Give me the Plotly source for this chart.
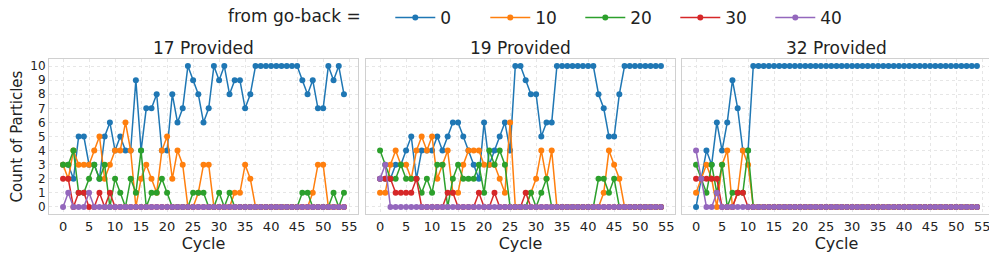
import plotly.graph_objects as go

cycles = list(range(55))
series_names = ["0", "10", "20", "30", "40"]
colors = ["#1f77b4", "#ff7f0e", "#2ca02c", "#d62728", "#9467bd"]
panel_titles = ["17 Provided", "19 Provided", "32 Provided"]
x_ticks = [0, 5, 10, 15, 20, 25, 30, 35, 40, 45, 50, 55]
y_ticks = list(range(11))

# 17 Provided
p17_0 = [3,3,2,5,5,3,3,2,5,6, 4,5,4,4,9,4,7,7,8,4, 4,8,6,7,10,9,8,6,7,10, 9,10,8,9,9,7,8,10,10,10, 10,10,10,10,10,10,9,8,9,7, 7,10,9,10,8]
p17_10 = [3,2,4,3,3,3,4,5,2,3, 4,4,6,4,0,2,3,2,1,4, 5,2,4,3,0,0,1,3,3,0, 0,0,0,1,1,3,2,0,0,0, 0,0,0,0,0,0,0,0,1,3, 3,0,0,0,0]
p17_20 = [3,3,4,1,1,2,3,2,3,0, 2,1,0,2,1,4,0,1,1,2, 1,0,0,0,0,1,1,1,0,0, 1,0,1,0,0,0,0,0,0,0, 0,0,0,0,0,0,1,1,0,0, 0,0,1,0,1]
p17_30 = [2,2,0,1,1,0,0,1,0,1, 0,0,0,0,0,0,0,0,0,0, 0,0,0,0,0,0,0,0,0,0, 0,0,0,0,0,0,0,0,0,0, 0,0,0,0,0,0,0,0,0,0, 0,0,0,0,0]
p17_40 = [0,1,0,0,0,1,0,0,0,0, 0,0,0,0,0,0,0,0,0,0, 0,0,0,0,0,0,0,0,0,0, 0,0,0,0,0,0,0,0,0,0, 0,0,0,0,0,0,0,0,0,0, 0,0,0,0,0]

# 19 Provided
p19_0 = [2,2,2,3,3,4,5,2,4,4, 4,5,4,5,6,6,5,4,3,2, 6,3,4,5,6,4,10,10,9,8, 8,5,6,6,10,10,10,10,10,10, 10,10,8,7,5,5,8,10,10,10, 10,10,10,10,10]
p19_10 = [1,1,3,4,3,3,2,4,5,4, 5,2,3,4,1,1,3,4,4,4, 3,3,3,2,1,6,0,0,0,1, 2,4,2,4,0,0,0,0,0,0, 0,0,0,1,4,3,2,0,0,0, 0,0,0,0,0]
p19_20 = [4,3,2,2,3,2,2,2,1,2, 1,3,3,0,2,3,2,2,2,3, 1,4,3,4,3,0,0,0,0,1, 0,1,2,0,0,0,0,0,0,0, 0,0,2,2,1,2,0,0,0,0, 0,0,0,0,0]
p19_30 = [2,2,2,1,1,1,1,2,0,0, 0,0,0,1,1,0,0,0,0,1, 0,0,1,0,0,0,0,0,1,0, 0,0,0,0,0,0,0,0,0,0, 0,0,0,0,0,0,0,0,0,0, 0,0,0,0,0]
p19_40 = [2,3,0,0,0,0,0,0,0,0, 0,0,0,0,0,0,0,0,0,0, 0,0,0,0,0,0,0,0,0,0, 0,0,0,0,0,0,0,0,0,0, 0,0,0,0,0,0,0,0,0,0, 0,0,0,0,0]

# 32 Provided
p32_0 = [0,2,4,3,6,4,6,9,7,4, 4,10,10,10,10,10,10,10,10,10, 10,10,10,10,10,10,10,10,10,10, 10,10,10,10,10,10,10,10,10,10, 10,10,10,10,10,10,10,10,10,10, 10,10,10,10,10]
p32_10 = [1,2,3,2,0,3,4,0,1,4, 3,0,0,0,0,0,0,0,0,0, 0,0,0,0,0,0,0,0,0,0, 0,0,0,0,0,0,0,0,0,0, 0,0,0,0,0,0,0,0,0,0, 0,0,0,0,0]
p32_20 = [3,2,1,3,1,3,0,1,1,1, 4,0,0,0,0,0,0,0,0,0, 0,0,0,0,0,0,0,0,0,0, 0,0,0,0,0,0,0,0,0,0, 0,0,0,0,0,0,0,0,0,0, 0,0,0,0,0]
p32_30 = [2,2,2,2,2,0,0,0,1,1, 0,0,0,0,0,0,0,0,0,0, 0,0,0,0,0,0,0,0,0,0, 0,0,0,0,0,0,0,0,0,0, 0,0,0,0,0,0,0,0,0,0, 0,0,0,0,0]
p32_40 = [4,2,0,0,1,0,0,0,0,0, 0,0,0,0,0,0,0,0,0,0, 0,0,0,0,0,0,0,0,0,0, 0,0,0,0,0,0,0,0,0,0, 0,0,0,0,0,0,0,0,0,0, 0,0,0,0,0]

panels = [
    [p17_0, p17_10, p17_20, p17_30, p17_40],
    [p19_0, p19_10, p19_20, p19_30, p19_40],
    [p32_0, p32_10, p32_20, p32_30, p32_40],
]

# page body has an 8px margin: figure is drawn offset by (8, 8)
OFF = 8
W, H = 997 - OFF, 255 - OFF
FONT = "DejaVu Sans"
x_px = [(49 - OFF, 358 - OFF), (366 - OFF, 675 - OFF), (682 - OFF, 991 - OFF)]
y_top, y_bot = 59 - OFF, 214 - OFF

fig = go.Figure()
for pi, panel in enumerate(panels):
    xa = "x" if pi == 0 else f"x{pi+1}"
    ya = "y" if pi == 0 else f"y{pi+1}"
    for si, vals in enumerate(panel):
        fig.add_trace(go.Scatter(
            x=cycles, y=vals, mode="lines+markers",
            name=series_names[si], legendgroup=series_names[si],
            showlegend=(pi == 0),
            line=dict(color=colors[si], width=1.5),
            marker=dict(color=colors[si], size=6),
            xaxis=xa, yaxis=ya,
        ))

layout = dict(
    width=W, height=H,
    margin=dict(l=0, r=0, t=0, b=0, autoexpand=False),
    paper_bgcolor="white", plot_bgcolor="white",
    font=dict(family=FONT, color="#222222"),
    showlegend=True,
    legend=dict(
        orientation="h", x=(546 - OFF) / W, xanchor="center", y=(H - (18 - OFF)) / H, yanchor="middle",
        title=dict(text="from go-back =&nbsp;&nbsp;&nbsp;&nbsp;", side="left", font=dict(size=17)),
        font=dict(size=17), entrywidth=40, itemwidth=40,
        bgcolor="rgba(0,0,0,0)",
    ),
    annotations=[],
)

for pi in range(3):
    sfx = "" if pi == 0 else str(pi + 1)
    x0, x1 = x_px[pi]
    layout["xaxis" + sfx] = dict(
        domain=[x0 / W, x1 / W], range=[-2.7, 56.7], automargin=False,
        tickvals=x_ticks, ticktext=[str(t) for t in x_ticks],
        tickfont=dict(size=13), showgrid=True, gridcolor="#e6e6e6", griddash="dot",
        zeroline=False, showline=True, linecolor="#d0d0d0", mirror=True,
        ticks="",
        title=dict(text="Cycle", font=dict(size=16), standoff=0),
        anchor="y" + sfx,
    )
    layout["yaxis" + sfx] = dict(
        domain=[(H - y_bot) / H, (H - y_top) / H], range=[-0.5, 10.5], automargin=False,
        tickvals=y_ticks, showticklabels=(pi == 0),
        tickfont=dict(size=12), showgrid=True, gridcolor="#e6e6e6", griddash="dot",
        zeroline=False, showline=True, linecolor="#d0d0d0", mirror=True,
        ticks="",
        anchor="x" + sfx,
    )
    if pi == 0:
        layout["yaxis"]["title"] = dict(text="Count of Particles", font=dict(size=15), standoff=8)
    layout["annotations"].append(dict(
        text=panel_titles[pi], x=(x0 + x1) / 2 / W, y=(H - (48 - OFF)) / H,
        xref="paper", yref="paper", showarrow=False, font=dict(size=17),
        xanchor="center", yanchor="middle",
    ))

fig.update_layout(**layout)
fig.write_html("out.html")
